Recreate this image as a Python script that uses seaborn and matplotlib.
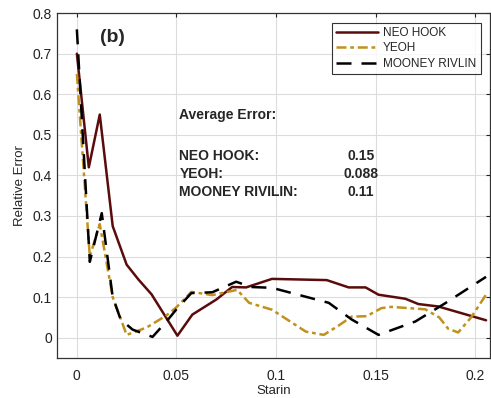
import matplotlib
matplotlib.use('Agg')
from matplotlib import pyplot as plt
import pandas as pd
import seaborn as sns

# NEO HOOK
neo_x = [0.0, 0.006, 0.0115, 0.018, 0.025, 0.031, 0.0375, 0.0505, 0.058, 0.07, 0.078, 0.085,
         0.098, 0.1255, 0.1365, 0.145, 0.1515, 0.165, 0.1715, 0.1815, 0.2055]
neo_y = [0.70, 0.42, 0.55, 0.275, 0.18, 0.143, 0.107, 0.005, 0.057, 0.094, 0.125, 0.124,
         0.145, 0.142, 0.124, 0.124, 0.106, 0.096, 0.083, 0.077, 0.043]

# YEOH
yeoh_x = [0.0, 0.0065, 0.0115, 0.018, 0.025, 0.035, 0.045, 0.05, 0.0575, 0.068, 0.0805, 0.0865,
          0.098, 0.115, 0.124, 0.1315, 0.138, 0.1455, 0.153, 0.158, 0.175, 0.182, 0.1865,
          0.1915, 0.198, 0.2055]
yeoh_y = [0.65, 0.20, 0.28, 0.10, 0.007, 0.025, 0.055, 0.075, 0.113, 0.105, 0.118, 0.086,
          0.069, 0.015, 0.007, 0.03, 0.052, 0.053, 0.073, 0.076, 0.07, 0.05, 0.022,
          0.013, 0.05, 0.106]

# MOONEY RIVLIN
mr_x = [0.0, 0.0065, 0.0125, 0.018, 0.022, 0.028, 0.038, 0.045, 0.05, 0.0575, 0.068, 0.08,
        0.0875, 0.098, 0.1265, 0.138, 0.1515, 0.17, 0.185, 0.2055]
mr_y = [0.76, 0.187, 0.307, 0.10, 0.045, 0.02, 0.002, 0.04, 0.07, 0.11, 0.112, 0.138,
        0.125, 0.123, 0.086, 0.045, 0.007, 0.04, 0.085, 0.15]

labels = ['NEO HOOK', 'YEOH', 'MOONEY RIVLIN']
avg_names = ['NEO HOOK:', 'YEOH:', 'MOONEY RIVILIN:']
avg_vals = ['0.15', '0.088', '0.11']

sns.set_style('white')
plt.rcParams['font.family'] = ['Liberation Sans', 'DejaVu Sans']

fig = plt.figure(figsize=(4.91, 3.98), dpi=100)
ax = fig.add_axes([0.116, 0.1005, 0.882, 0.8665])

neo = pd.DataFrame({'x': neo_x, 'y': neo_y})
yeoh = pd.DataFrame({'x': yeoh_x, 'y': yeoh_y})
mr = pd.DataFrame({'x': mr_x, 'y': mr_y})

sns.lineplot(data=neo, x='x', y='y', ax=ax, color='#5a0c0c', lw=1.8, label=labels[0])
sns.lineplot(data=yeoh, x='x', y='y', ax=ax, color='#c0911c', lw=1.8,
             label=labels[1], dashes=False, linestyle=(0, (4, 1.5, 1.5, 1.5)))
sns.lineplot(data=mr, x='x', y='y', ax=ax, color='black', lw=1.8,
             label=labels[2], linestyle=(0, (6, 4)))

ax.set_xlim(-0.01, 0.2075)
ax.set_ylim(-0.05, 0.8)
ax.set_xticks([0, 0.05, 0.1, 0.15, 0.2])
ax.set_xticklabels(['0', '0.05', '0.1', '0.15', '0.2'])
ax.set_yticks([0, 0.1, 0.2, 0.3, 0.4, 0.5, 0.6, 0.7, 0.8])
ax.set_yticklabels(['0', '0.1', '0.2', '0.3', '0.4', '0.5', '0.6', '0.7', '0.8'])
ax.grid(True, color='#dcdcdc', lw=0.8)
ax.tick_params(direction='in', length=3, labelsize=10, top=True, right=True,
               colors='#222222')
ax.tick_params(axis='x', pad=8)
for s in ax.spines.values():
    s.set_color('#333333')
    s.set_linewidth(0.9)

ax.set_xlabel('Starin', fontsize=9.5, labelpad=1)
ax.set_ylabel('Relative Error', fontsize=9.5, labelpad=5)

leg = ax.legend(loc='upper right', fontsize=8.5, frameon=True, fancybox=False,
                handlelength=3.6, borderpad=0.35, labelspacing=0.3, handletextpad=0.4,
                borderaxespad=0.8)
leg.get_frame().set_edgecolor('black')
leg.get_frame().set_linewidth(0.8)

ax.text(0.0115, 0.74, '(b)', fontsize=14, fontweight='bold', va='center')
ax.text(0.0515, 0.55, 'Average Error:', fontsize=10, fontweight='bold', va='center')
for i, (n, v) in enumerate(zip(avg_names, avg_vals)):
    yy = 0.448 - i * 0.045
    ax.text(0.0515, yy, n, fontsize=10, fontweight='bold', va='center')
    ax.text(0.136 if v != '0.088' else 0.134, yy, v, fontsize=10, fontweight='bold', va='center')

fig.savefig('out.png', dpi=100)
